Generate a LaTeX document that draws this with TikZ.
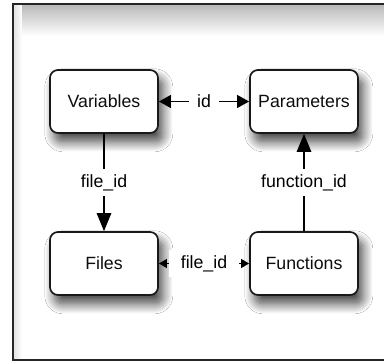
\documentclass[tikz,border=0pt]{standalone}
\usepackage{fontspec}
\setmainfont{Liberation Sans}
\usetikzlibrary{arrows.meta,shadows.blur}

\tikzset{
  box/.style={draw=black!90, line width=1.2pt, rounded corners=0.2cm, fill=white,
    minimum width=2.7cm, minimum height=1.575cm,
    blur shadow={shadow xshift=0.12cm, shadow yshift=-0.22cm, shadow blur radius=0.25cm,
      shadow blur steps=14, shadow opacity=75}},
  lbl/.style={fill=white, inner xsep=0.2cm, inner ysep=0.13cm},
  link/.style={line width=1.2pt, black},
}

\begin{document}
\begin{tikzpicture}[x=0.025cm, y=-0.025cm, font=\fontsize{12.6pt}{15pt}\selectfont, text=black!95]
  \useasboundingbox (0,0) rectangle (384,362);
  \clip (0,0) rectangle (384,362);
  % Rahmen
  \fill[white] (0,0) rectangle (384,362);
  \fill[top color=black!28, bottom color=white] (13,4) rectangle (400,36);
  \fill[left color=black!12, right color=white] (13,4) rectangle (22,360);
  \draw[line width=1.2pt, black!85] (13,4) rectangle (400,360);
  % Tabellen
  \node[box] (var) at (104,101.5) {Variables};
  \node[box] (par) at (304,101.5) {Parameters};
  \node[box] (fil) at (104,263.5) {Files};
  \node[box] (fun) at (304,263.5) {Functions};
  % Beziehungen
  \draw[link, {Triangle[length=0.3cm,width=0.32cm]}-{Triangle[length=0.3cm,width=0.32cm]}]
    (var) -- node[lbl] {id} (par);
  \draw[link, {Triangle[length=0.2cm,width=0.22cm]}-{Triangle[length=0.2cm,width=0.22cm]}]
    (fil) -- node[lbl, inner xsep=0.3cm] {file\_id} (fun);
  \draw[link, -{Triangle[length=0.45cm,width=0.36cm]}]
    (var) -- node[lbl] {file\_id} (fil);
  \draw[link, -{Triangle[length=0.45cm,width=0.36cm]}]
    (fun) -- node[lbl] {function\_id} (par);
\end{tikzpicture}
\end{document}
